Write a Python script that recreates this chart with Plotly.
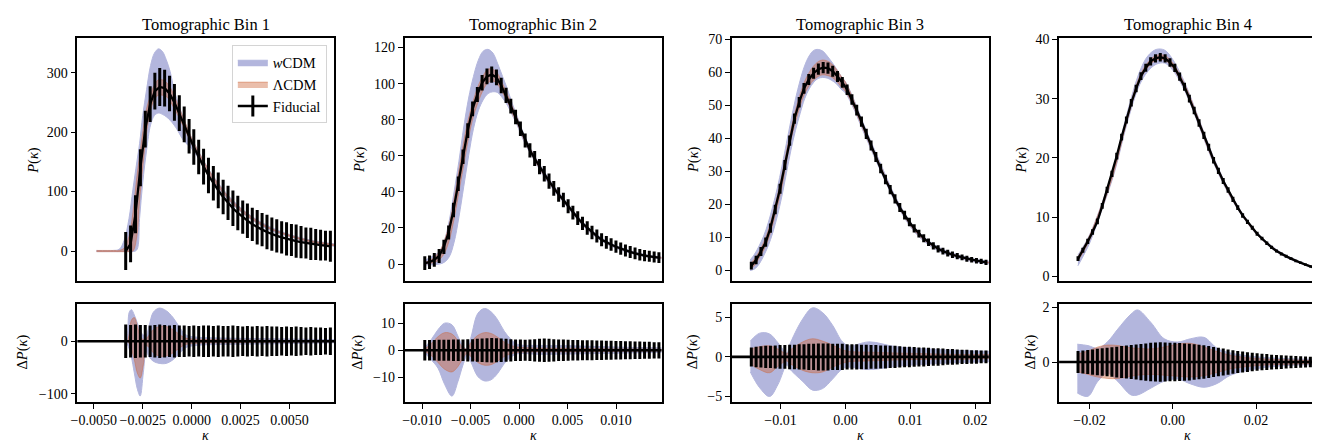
import plotly.graph_objects as go

# ---------------- data ----------------
# Bin 1 fiducial
K1 = [-0.00337, -0.00312, -0.00287, -0.00262, -0.00237, -0.00212, -0.00188, -0.00163, -0.00138, -0.00113,
      -0.00088, -0.00063, -0.00038, -0.00013, 0.00011, 0.00036, 0.00061, 0.00086, 0.00111, 0.00136,
      0.00161, 0.00186, 0.00211, 0.00236, 0.00261, 0.00285, 0.00310, 0.00335, 0.00360, 0.00385,
      0.00410, 0.00435, 0.00460, 0.00485, 0.00510, 0.00534, 0.00559, 0.00584, 0.00609, 0.00634,
      0.00659, 0.00684, 0.00709]
P1 = [0, 12, 62, 140, 205, 247, 269, 276, 274, 265, 250, 232, 213, 193, 175, 158, 142, 127, 114, 102,
      91, 81, 72, 64, 57, 51, 45, 40, 36, 32, 28.5, 25.5, 23, 20.5, 18.5, 16.5, 15, 13.5, 12, 11, 10, 9, 8]
E1 = [32, 31, 32, 31, 31, 30, 31, 32, 31, 30, 31, 30, 30, 29, 30, 29, 30, 30, 29, 30,
      29, 29, 30, 29, 28, 29, 28, 29, 28, 29, 28, 28, 27, 28, 27, 28, 27, 26, 27, 26, 26, 25, 26]
KB1 = [-0.00486, -0.0040, -0.0037, -0.00345, -0.0032, -0.0030, -0.0028, -0.00266, -0.0025, -0.0023,
       -0.0021, -0.0019, -0.0017, -0.0015, -0.0013, -0.0011, -0.0009, -0.0007, -0.0004, 0.0,
       0.0005, 0.001, 0.002, 0.003, 0.004, 0.005, 0.006, 0.0073]
W_HI1 = [1, 1, 3, 18, 55, 104, 150, 181, 228, 272, 312, 333, 340, 336, 322, 302, 272, 250, 222, 190,
         159, 131, 89, 60, 41, 28, 19, 12]
W_LO1 = [-1, -1, -1, -1, -1, -1, 2, 55, 115, 170, 212, 228, 232, 230, 226, 220, 212, 202, 185, 172,
         148, 122, 81, 54, 35, 24, 15, 8]
L_HI1 = [1, 1, 1, 5, 25, 65, 125, 160, 200, 240, 262, 280, 288, 288, 284, 276, 262, 246, 222, 190,
         158, 130, 87, 59, 39, 27, 18, 11]
L_LO1 = [-1, -1, -1, -1, -1, 0, 25, 85, 140, 200, 236, 255, 262, 262, 260, 252, 240, 228, 208, 180,
         150, 124, 83, 55, 37, 25, 16, 9]
KD1 = [-0.00339, -0.00329, -0.00319, -0.00308, -0.00293, -0.00278, -0.00263, -0.00247, -0.00232, -0.00217,
       -0.00196, -0.00166, -0.0013, -0.00095, -0.00059, -0.00029, 0.00022, 0.00175, 0.00378, 0.00729]
DW_HI1 = [0, 10, 55, 60, 50, 35, 20, 12, 12, 30, 55, 63, 58, 45, 25, 12, 8, 6, 5, 3]
DW_LO1 = [0, -5, -15, -30, -60, -90, -104, -60, -20, -30, -38, -42, -42, -35, -22, -12, -8, -6, -5, -3]
DL_HI1 = [0, 0, 15, 40, 45, 30, 10, 3, 5, 12, 22, 28, 28, 22, 12, 6, 4, 3, 2, 1]
DL_LO1 = [0, 0, -5, -15, -35, -60, -70, -45, -8, -12, -22, -28, -28, -22, -12, -6, -4, -3, -2, -1]

# Bin 2
K2 = [-0.00972, -0.00923, -0.00874, -0.00824, -0.00775, -0.00726, -0.00676, -0.00627, -0.00578, -0.00529,
      -0.00479, -0.00430, -0.00381, -0.00331, -0.00282, -0.00233, -0.00184, -0.00134, -0.00085, -0.00036,
      0.00014, 0.00063, 0.00112, 0.00161, 0.00211, 0.00260, 0.00309, 0.00358, 0.00408, 0.00457,
      0.00506, 0.00555, 0.00605, 0.00654, 0.00703, 0.00752, 0.00802, 0.00851, 0.00900, 0.00949,
      0.00999, 0.01048, 0.01097, 0.01146, 0.01196, 0.01245, 0.01294, 0.01343, 0.01393, 0.01442]
P2 = [0.5, 1.0, 2.3, 4.5, 9.5, 17.5, 30, 44.5, 59.5, 74, 86, 94, 100.5, 104, 105, 103.5, 99, 93.5, 87.5, 81.5,
      75, 68.5, 63, 58.5, 54, 50, 46, 42, 38.5, 35.5, 32, 28.5, 25.5, 22.5, 20, 17.5, 15.5, 13.5, 12, 10.8,
      9.6, 8.5, 7.5, 6.7, 5.9, 5.2, 4.7, 4.3, 3.9, 3.6]
E2 = [3.8, 3.8, 3.8, 3.9, 3.9, 3.9, 4.0, 4.0, 4.0, 4.1, 4.1, 4.2, 4.3, 4.4, 4.5, 4.4, 4.3, 4.2, 4.1, 4.0,
      4.0, 3.9, 4.0, 4.1, 4.2, 4.3, 4.2, 4.1, 4.0, 4.0, 3.9, 3.8, 3.8, 3.7, 3.7, 3.7, 3.6, 3.6, 3.5, 3.5,
      3.4, 3.4, 3.3, 3.3, 3.2, 3.2, 3.1, 3.1, 3.0, 3.0]
KB2 = [-0.0098, -0.0092, -0.0087, -0.0082, -0.0077, -0.0072, -0.0067, -0.0062, -0.0057, -0.0052,
       -0.0047, -0.0042, -0.0037, -0.0032, -0.0027, -0.0022, -0.0017, -0.0012, -0.0007, -0.0002,
       0.0005, 0.0015, 0.003, 0.005, 0.007, 0.009, 0.011, 0.013, 0.0147]
W_HI2 = [2, 3.5, 5, 7, 13, 24, 40, 57, 76, 92, 104, 113, 118, 119, 117, 111, 104, 97, 89, 82,
         72, 61, 48, 33.5, 21, 12.8, 8.2, 5.3, 3.9]
W_LO2 = [-0.5, -0.5, -0.3, 0, 1, 4, 12, 26, 43, 60, 75, 85, 91, 94.5, 95.5, 95, 92, 88, 82.5, 77,
         68, 58, 45, 31.5, 19, 11.2, 6.8, 4.1, 2.9]
L_HI2 = [1, 2, 4, 7, 13, 22, 36, 52, 68, 81, 91, 99, 104.5, 108, 108, 105.5, 100, 94, 87.5, 81,
         71, 60.5, 47.3, 33, 20.4, 12.3, 7.7, 4.9, 3.6]
L_LO2 = [0, 0.3, 1, 2.5, 6, 13, 25, 40, 55, 70, 82, 90, 96.5, 100.5, 101.5, 99.5, 95, 90, 83.5, 78,
         69, 58.5, 45.7, 32, 19.6, 11.7, 7.3, 4.5, 3.2]
KD2 = [-0.00972, -0.00904, -0.00836, -0.00767, -0.00692, -0.0063, -0.00579, -0.00535, -0.00494, -0.00425,
       -0.00357, -0.00289, -0.0022, -0.00152, -0.00083, -0.00015, 0.002, 0.005, 0.008, 0.011, 0.0147]
DW_HI2 = [1, 4, 7.6, 10, 9.4, 5.2, 1.6, 0.4, 5, 13.6, 15.4, 14.2, 11.2, 7, 4, 2.2, 1.8, 1.7, 1.4, 1.1, 0.9]
DW_LO2 = [-1, -3.6, -6.6, -12.6, -16.9, -11.5, -5.5, -1.9, -4.5, -9.7, -11.3, -10.9, -8.5, -4.9, -2.5, -1.3,
          -1.5, -1.4, -1.2, -1.0, -0.8]
DL_HI2 = [0.5, 2.5, 5, 6.5, 6, 3.5, 1, 0.5, 3, 5.5, 6.5, 6.2, 4.8, 3, 1.8, 1.2, 0.8, 0.7, 0.6, 0.5, 0.4]
DL_LO2 = [-0.5, -2, -4.5, -7, -8, -6, -3, -1, -2.5, -4.5, -5.5, -5.3, -4, -2.3, -1.3, -0.8, -0.6, -0.6,
          -0.5, -0.4, -0.3]

# Bin 3
K3 = [-0.01451, -0.01377, -0.01303, -0.01229, -0.01156, -0.01082, -0.01008, -0.00934, -0.00860, -0.00786,
      -0.00713, -0.00639, -0.00565, -0.00491, -0.00417, -0.00343, -0.00269, -0.00196, -0.00122, -0.00048,
      0.00026, 0.00100, 0.00174, 0.00247, 0.00321, 0.00395, 0.00469, 0.00543, 0.00617, 0.00690,
      0.00764, 0.00838, 0.00912, 0.00986, 0.01060, 0.01133, 0.01207, 0.01281, 0.01355, 0.01429,
      0.01503, 0.01577, 0.01650, 0.01724, 0.01798, 0.01872, 0.01946, 0.02020, 0.02093, 0.02167]
P3 = [1.5, 3.2, 5.8, 8.6, 12.9, 18.5, 24.8, 32, 39.4, 46, 51, 55.2, 57.9, 59.8, 61, 61.5, 61.3, 60.4, 58.8, 57,
      54.8, 51.8, 48.6, 45.1, 41.4, 37.9, 34.4, 30.9, 27.6, 24.5, 21.7, 19.1, 16.8, 14.7, 12.8, 11.2, 9.8,
      8.6, 7.5, 6.6, 5.9, 5.3, 4.8, 4.4, 4.0, 3.6, 3.3, 3.0, 2.8, 2.5]
E3 = [1.2, 1.3, 1.35, 1.4, 1.4, 1.45, 1.5, 1.5, 1.55, 1.55, 1.6, 1.6, 1.65, 1.65, 1.7, 1.7, 1.7, 1.65, 1.65,
      1.65, 1.6, 1.6, 1.6, 1.55, 1.55, 1.5, 1.5, 1.45, 1.45, 1.4, 1.4, 1.35, 1.3, 1.3, 1.25, 1.2, 1.2, 1.15,
      1.1, 1.1, 1.05, 1.0, 1.0, 0.95, 0.9, 0.9, 0.85, 0.85, 0.8, 0.8]
KB3 = [-0.0147, -0.0140, -0.0133, -0.0126, -0.0119, -0.0112, -0.0105, -0.0098, -0.0091, -0.0084,
       -0.0077, -0.0070, -0.0063, -0.0056, -0.0049, -0.0042, -0.0035, -0.0028, -0.0021, -0.0014,
       -0.0007, 0.0, 0.001, 0.003, 0.005, 0.008, 0.011, 0.014, 0.017, 0.020, 0.0222]
W_HI3 = [3.2, 5, 7.5, 10.5, 14.5, 19.5, 25, 31.5, 38.5, 45.5, 52, 57.5, 62, 65, 66.7, 67, 66.5, 65, 63.2,
         61.2, 59, 57.2, 53.2, 43.5, 34.3, 21.3, 12.3, 7.5, 5.0, 3.4, 2.8]
W_LO3 = [0, 0.5, 2, 4.5, 7.5, 11.5, 16.5, 22.5, 29.5, 36.5, 42.5, 47.5, 52, 55, 57, 58.2, 58.5, 58.3, 57.6,
         56.6, 55, 53.8, 50.2, 41, 32, 19.6, 10.9, 6.3, 4.0, 2.6, 2.0]
L_HI3 = [2, 3.6, 5.8, 8.6, 12.2, 17, 22.6, 28.8, 36, 42.8, 48.6, 53.4, 57.3, 60, 62, 63.3, 63.8, 63.5, 62.6,
         61, 59, 57.1, 52.9, 42.8, 33.6, 20.8, 11.9, 7.1, 4.7, 3.1, 2.5]
L_LO3 = [0.5, 1.6, 3.8, 6.2, 9.4, 14, 19.4, 25.2, 32.8, 39.6, 45, 49.8, 53.5, 56, 57.7, 58.8, 59.3, 59.1,
         58.6, 57.4, 55.8, 54.3, 50.7, 41.6, 32.6, 20, 11.3, 6.7, 4.3, 2.9, 2.3]
KD3 = [-0.01466, -0.01322, -0.01169, -0.01041, -0.00903, -0.00862, -0.00658, -0.00505, -0.00352, -0.00198,
       -0.00045, 0.00057, 0.00364, 0.00772, 0.01284, 0.01795, 0.0222]
DW_HI3 = [2.0, 3.0, 2.9, 1.8, 0.5, 1.5, 4.8, 6.2, 5.6, 4.0, 1.9, 1.4, 1.9, 1.3, 1.0, 0.8, 0.7]
DW_LO3 = [-1.9, -3.9, -5.0, -3.5, -1.0, -1.5, -3.1, -4.2, -4.0, -2.8, -1.5, -1.3, -1.6, -1.2, -0.9, -0.7, -0.6]
DL_HI3 = [1.0, 1.3, 1.4, 1.0, 0.4, 0.8, 1.9, 2.3, 2.0, 1.5, 0.9, 0.7, 0.6, 0.5, 0.4, 0.3, 0.3]
DL_LO3 = [-0.9, -1.6, -2.0, -1.2, -0.5, -0.8, -1.7, -2.0, -1.9, -1.3, -0.8, -0.6, -0.5, -0.4, -0.3, -0.3, -0.2]

# Bin 4
K4 = [-0.02277, -0.02161, -0.02044, -0.01928, -0.01812, -0.01695, -0.01579, -0.01463, -0.01347, -0.01230,
      -0.01114, -0.00998, -0.00881, -0.00765, -0.00649, -0.00532, -0.00416, -0.00300, -0.00184, -0.00067,
      0.00049, 0.00165, 0.00282, 0.00398, 0.00514, 0.00631, 0.00747, 0.00863, 0.00980, 0.01096,
      0.01212, 0.01329, 0.01445, 0.01561, 0.01678, 0.01794, 0.01910, 0.02026, 0.02143, 0.02259,
      0.02375, 0.02492, 0.02608, 0.02724, 0.02841, 0.02957, 0.03073, 0.03190, 0.03306, 0.03422]
P4 = [3.0, 4.4, 5.9, 7.5, 9.3, 11.9, 14.6, 17.3, 20.3, 23.5, 26.4, 29.3, 31.7, 33.8, 35.2, 36.3, 36.8, 37.0,
      36.8, 36.1, 35.2, 33.7, 32.0, 30.0, 28.0, 25.9, 23.8, 21.8, 19.6, 17.8, 16.1, 14.6, 13.0, 11.6, 10.3,
      9.2, 8.2, 7.2, 6.4, 5.6, 4.9, 4.3, 3.8, 3.4, 3.0, 2.6, 2.3, 2.0, 1.7, 1.4]
E4 = [0.40, 0.42, 0.44, 0.46, 0.48, 0.50, 0.52, 0.54, 0.56, 0.58, 0.60, 0.62, 0.64, 0.66, 0.68, 0.70, 0.71,
      0.72, 0.71, 0.70, 0.70, 0.69, 0.68, 0.67, 0.65, 0.63, 0.61, 0.58, 0.55, 0.52, 0.49, 0.46, 0.43, 0.40,
      0.38, 0.36, 0.34, 0.32, 0.30, 0.29, 0.27, 0.26, 0.25, 0.24, 0.23, 0.22, 0.21, 0.20, 0.19, 0.18]
KB4 = [-0.0228, -0.020, -0.017, -0.014, -0.011, -0.008, -0.006, -0.004, -0.002, 0.0, 0.003, 0.006, 0.010,
       0.015, 0.020, 0.025, 0.030, 0.0344]
W_HI4 = [3.6, 7.0, 12.4, 19.0, 27.5, 34.5, 37.2, 38.3, 38.2, 36.6, 32.5, 27.1, 19.8, 12.6, 7.6, 4.5, 2.65, 1.5]
W_LO4 = [1.8, 5.6, 11.3, 17.6, 25.8, 32.3, 34.6, 35.8, 36.0, 34.8, 31.1, 25.9, 18.8, 12.0, 7.2, 4.1, 2.35, 1.3]
L_HI4 = [3.3, 6.9, 12.3, 18.7, 27.0, 33.7, 36.1, 37.3, 37.3, 36.0, 32.2, 26.9, 19.6, 12.5, 7.55, 4.4, 2.58, 1.45]
L_LO4 = [2.6, 6.1, 11.5, 17.9, 26.2, 32.9, 35.3, 36.5, 36.5, 35.2, 31.4, 26.1, 19.0, 12.1, 7.25, 4.2, 2.42, 1.35]
KD4 = [-0.02294, -0.02039, -0.018, -0.01561, -0.01322, -0.01003, -0.00844, -0.00525, -0.00207, 0.00113,
       0.00431, 0.00749, 0.01069, 0.01388, 0.02026, 0.02822, 0.0344]
DW_HI4 = [0.65, 0.6, 0.5, 0.75, 1.2, 1.75, 1.9, 1.44, 0.85, 0.73, 0.85, 0.9, 0.5, 0.33, 0.19, 0.12, 0.1]
DW_LO4 = [-1.13, -1.25, -0.7, -0.42, -0.71, -1.2, -1.2, -0.95, -0.7, -0.62, -0.8, -0.92, -0.78, -0.48, -0.24,
          -0.12, -0.1]
DL_HI4 = [0.3, 0.4, 0.55, 0.62, 0.6, 0.52, 0.5, 0.48, 0.55, 0.65, 0.68, 0.55, 0.38, 0.25, 0.13, 0.08, 0.06]
DL_LO4 = [-0.35, -0.45, -0.55, -0.6, -0.6, -0.52, -0.48, -0.45, -0.48, -0.52, -0.55, -0.5, -0.38, -0.25,
          -0.13, -0.08, -0.06]

TITLES = ["Tomographic Bin 1", "Tomographic Bin 2", "Tomographic Bin 3", "Tomographic Bin 4"]
LEGEND_NAMES = ["<i>w</i>CDM", "ΛCDM", "Fiducial"]

# ---------------- layout helpers ----------------
# The page body has an 8px margin, so the figure is made 8px smaller and all
# positions (given in screenshot pixels) are shifted by that offset.
OFF = 8
W, H = 1320 - OFF, 443 - OFF
FONT = "Liberation Serif, Times New Roman, serif"
BLUE = "rgb(179,182,221)"
RED = "rgba(205,100,55,0.42)"
TICK_SIZE = 14


def fx(p):
    return (p - OFF) / W


def fy(p):
    return 1 - (p - OFF) / H


XPX = [(70.7, 329.0), (399.7, 658.0), (728.7, 987.0), (1057.7, 1316.0)]
TOP_PX = (32.7, 281.0)
BOT_PX = (304.0, 404.0)

XR = [[-0.00584, 0.00729], [-0.0118, 0.01469], [-0.01751, 0.0221], [-0.02732, 0.03442]]
YR_TOP = [[-51, 358], [-9.6, 125.2], [-3.26, 70.4], [-0.83, 40.2]]
YR_BOT = [[-115, 71], [-19.0, 17.1], [-5.67, 6.7], [-1.45, 2.12]]
XT = [[-0.005, -0.0025, 0, 0.0025, 0.005], [-0.01, -0.005, 0, 0.005, 0.01], [-0.01, 0, 0.01, 0.02],
      [-0.02, 0, 0.02]]
XTT = [["−0.0050", "−0.0025", "0.0000", "0.0025", "0.0050"], ["−0.010", "−0.005", "0.000", "0.005", "0.010"],
       ["−0.01", "0.00", "0.01", "0.02"], ["−0.02", "0.00", "0.02"]]
YT_TOP = [[0, 100, 200, 300], [0, 20, 40, 60, 80, 100, 120], [0, 10, 20, 30, 40, 50, 60, 70],
          [0, 10, 20, 30, 40]]
YT_BOT = [[-100, 0], [-10, 0, 10], [-5, 0, 5], [0, 2]]
YTT_BOT = [["−100", "0"], ["−10", "0", "10"], ["−5", "0", "5"], ["0", "2"]]
YLAB_TOP_X = [27, 355, 690.8, 1020]
YLAB_BOT_X = [15.7, 352.7, 689, 1029]

bins = [
    (K1, P1, E1, KB1, W_HI1, W_LO1, L_HI1, L_LO1, KD1, DW_HI1, DW_LO1, DL_HI1, DL_LO1),
    (K2, P2, E2, KB2, W_HI2, W_LO2, L_HI2, L_LO2, KD2, DW_HI2, DW_LO2, DL_HI2, DL_LO2),
    (K3, P3, E3, KB3, W_HI3, W_LO3, L_HI3, L_LO3, KD3, DW_HI3, DW_LO3, DL_HI3, DL_LO3),
    (K4, P4, E4, KB4, W_HI4, W_LO4, L_HI4, L_LO4, KD4, DW_HI4, DW_LO4, DL_HI4, DL_LO4),
]

fig = go.Figure()


def band(xa, ya, k, lo, hi, color, name=None, legend=False):
    fig.add_trace(go.Scatter(x=k, y=lo, mode="lines", line=dict(color=color, width=1, shape="spline"),
                             xaxis=xa, yaxis=ya, showlegend=False, hoverinfo="skip"))
    fig.add_trace(go.Scatter(x=k, y=hi, mode="lines", line=dict(color=color, width=1, shape="spline"),
                             fill="tonexty", fillcolor=color, xaxis=xa, yaxis=ya,
                             name=name, showlegend=legend, hoverinfo="skip"))


annotations = []
shapes = []
layout_axes = {}
for b, (K, P, E, KB, WH, WL, LH, LL, KD, DWH, DWL, DLH, DLL) in enumerate(bins):
    it = 2 * b + 1
    ib = 2 * b + 2
    xt, yt = f"x{it}", f"y{it}"
    xb, yb = f"x{ib}", f"y{ib}"
    first = b == 0
    # top panel
    band(xt, yt, KB, WL, WH, BLUE, LEGEND_NAMES[0], first)
    band(xt, yt, KB, LL, LH, RED, LEGEND_NAMES[1], first)
    fig.add_trace(go.Scatter(x=K, y=P, mode="lines", line=dict(color="black", width=2.3),
                             error_y=dict(type="data", array=E, color="black", thickness=3, width=0),
                             xaxis=xt, yaxis=yt, showlegend=False))
    # bottom panel
    band(xb, yb, KD, DWL, DWH, BLUE)
    band(xb, yb, KD, DLL, DLH, RED)
    shapes.append(dict(type="line", xref=f"{xb} domain", yref=yb, x0=0, x1=1, y0=0, y1=0,
                       line=dict(color="black", width=2.6), layer="above"))
    fig.add_trace(go.Scatter(x=K, y=[0] * len(K), mode="markers", marker=dict(size=1, color="black"),
                             error_y=dict(type="data", array=E, color="black", thickness=3, width=0),
                             xaxis=xb, yaxis=yb, showlegend=False))

    dom = [fx(XPX[b][0]), fx(XPX[b][1])]
    common = dict(showline=True, linecolor="black", linewidth=1.6, mirror=True, showgrid=False,
                  zeroline=False, ticks="outside", ticklen=5, tickwidth=1.1, tickcolor="black",
                  tickangle=0, tickfont=dict(family=FONT, size=TICK_SIZE, color="black"))
    kt = "xaxis" if it == 1 else f"xaxis{it}"
    layout_axes[kt] = dict(common, domain=dom, range=XR[b], anchor=yt, showticklabels=False,
                           ticks="", tickvals=XT[b])
    layout_axes[f"yaxis{'' if it == 1 else it}"] = dict(common, domain=[fy(TOP_PX[1]), fy(TOP_PX[0])],
                                                       range=YR_TOP[b], anchor=xt, tickvals=YT_TOP[b],
                                                       ticktext=[str(v) for v in YT_TOP[b]])
    layout_axes[f"xaxis{ib}"] = dict(common, domain=dom, range=XR[b], anchor=yb, tickvals=XT[b],
                                     ticktext=XTT[b])
    layout_axes[f"yaxis{ib}"] = dict(common, domain=[fy(BOT_PX[1]), fy(BOT_PX[0])], range=YR_BOT[b],
                                     anchor=xb, tickvals=YT_BOT[b], ticktext=YTT_BOT[b])

    cx = fx((XPX[b][0] + XPX[b][1]) / 2)
    ann = dict(xref="paper", yref="paper", showarrow=False, xanchor="center", yanchor="middle")
    annotations.append(dict(ann, text=TITLES[b], x=cx, y=fy(18.3),
                            font=dict(family=FONT, size=16.5, color="black")))
    annotations.append(dict(ann, text="<i>P</i>(<i>κ</i>)", x=fx(YLAB_TOP_X[b]), y=fy(157), textangle=-90,
                            font=dict(family=FONT, size=14.5, color="black")))
    annotations.append(dict(ann, text="Δ<i>P</i>(<i>κ</i>)", x=fx(YLAB_BOT_X[b]), y=fy(353), textangle=-90,
                            font=dict(family=FONT, size=14.5, color="black")))
    annotations.append(dict(ann, text="<i>κ</i>", x=cx, y=fy(438.5), borderpad=0,
                            font=dict(family=FONT, size=14, color="black")))

# legend entry for fiducial (errorbar-like symbol)
fig.add_trace(go.Scatter(x=[None], y=[None], mode="lines+markers", name=LEGEND_NAMES[2],
                         line=dict(color="black", width=2.5),
                         marker=dict(symbol="line-ns-open", size=15, color="black",
                                     line=dict(width=3, color="black")),
                         xaxis="x", yaxis="y"))

fig.update_layout(
    width=W, height=H, margin=dict(l=0, r=0, t=0, b=0),
    paper_bgcolor="white", plot_bgcolor="white",
    font=dict(family=FONT, size=14.5, color="black"),
    annotations=annotations, shapes=shapes,
    legend=dict(x=fx(321.5), y=fy(40), xanchor="right", yanchor="top", bgcolor="rgba(255,255,255,0.85)",
                bordercolor="#d4d4d4", borderwidth=1, font=dict(family=FONT, size=14.5, color="black"),
                traceorder="normal", tracegroupgap=0, itemwidth=30),
    **layout_axes,
)

fig.write_html("out.html")
